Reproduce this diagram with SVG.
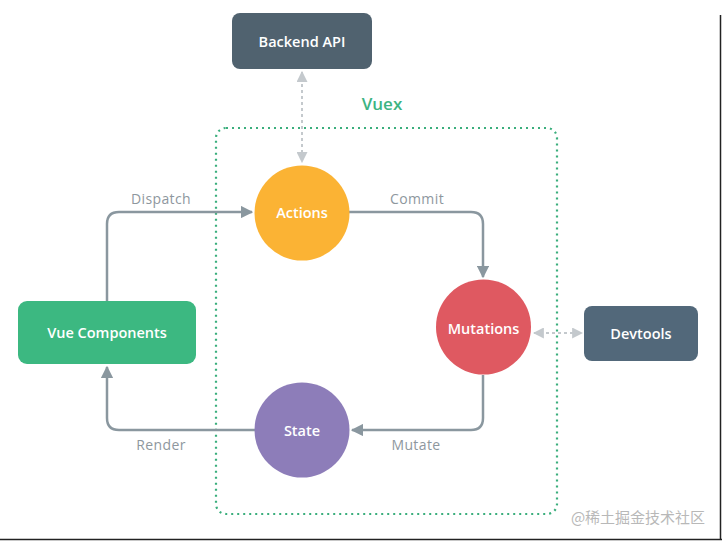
<svg xmlns="http://www.w3.org/2000/svg" width="722" height="541" viewBox="0 0 722 541">
<defs>
<style>
.lbl{font-family:"Open Sans","Liberation Sans",sans-serif;font-size:14px;font-weight:500;letter-spacing:0.4px;fill:#8e979e;text-anchor:middle}
.ntxt{font-family:"Open Sans","Liberation Sans",sans-serif;font-size:14.5px;font-weight:600;fill:#ffffff;text-anchor:middle}
.flow{fill:none;stroke:#8a979f;stroke-width:2.5}
.dot{fill:none;stroke:#c4c9cd;stroke-width:2;stroke-dasharray:3 3}
</style>
<marker id="ah" viewBox="0 0 10 10" refX="9" refY="5" markerWidth="5" markerHeight="5" orient="auto">
<path d="M0,0 L10,5 L0,10 z" fill="#8a979f"/>
</marker>
<marker id="ahl" viewBox="0 0 10 10" refX="9" refY="5" markerWidth="5.5" markerHeight="5.5" orient="auto-start-reverse">
<path d="M0,0 L10,5 L0,10 z" fill="#c4c9cd"/>
</marker>
</defs>
<rect width="722" height="541" fill="#ffffff"/>
<line x1="720.5" y1="15" x2="720.5" y2="540" stroke="#222" stroke-width="1.5"/>
<line x1="0" y1="539.5" x2="722" y2="539.5" stroke="#222" stroke-width="1.5"/>

<g id="vuex">
<rect x="216" y="128" width="341" height="386" rx="10" fill="none" stroke="#3aae7c" stroke-width="2.2" stroke-dasharray="2 4"/>
<text x="382" y="110" font-family="Open Sans, Liberation Sans, sans-serif" font-size="17" font-weight="600" fill="#3db482" text-anchor="middle">Vuex</text>
</g>

<g id="connectors">
<path class="flow" d="M107,301 V224 Q107,212 119,212 H252" marker-end="url(#ah)"/>
<path class="flow" d="M349,212 H471 Q483,212 483,224 V277" marker-end="url(#ah)"/>
<path class="flow" d="M483,375 V418 Q483,430 471,430 H352" marker-end="url(#ah)"/>
<path class="flow" d="M255,430 H119 Q107,430 107,418 V367" marker-end="url(#ah)"/>
<path class="dot" d="M302,72 V162" marker-start="url(#ahl)" marker-end="url(#ahl)"/>
<path class="dot" d="M534,333 H582" marker-start="url(#ahl)" marker-end="url(#ahl)"/>
<text class="lbl" x="161" y="204">Dispatch</text>
<text class="lbl" x="417" y="204">Commit</text>
<text class="lbl" x="416" y="450">Mutate</text>
<text class="lbl" x="161" y="450">Render</text>
</g>

<g id="backend">
<rect x="232" y="13" width="140" height="56" rx="8" fill="#50626f"/>
<text class="ntxt" x="302" y="47">Backend API</text>
</g>
<g id="actions">
<circle cx="302" cy="213" r="47.5" fill="#fbb334"/>
<text class="ntxt" x="302" y="218">Actions</text>
</g>
<g id="mutations">
<circle cx="483.5" cy="327" r="47.5" fill="#df5961"/>
<text class="ntxt" x="483.5" y="334">Mutations</text>
</g>
<g id="state">
<circle cx="302" cy="430" r="47.5" fill="#8d7db9"/>
<text class="ntxt" x="302" y="436">State</text>
</g>
<g id="vue-components">
<rect x="18" y="301" width="178" height="63" rx="9" fill="#3cb881"/>
<text class="ntxt" x="107" y="338">Vue Components</text>
</g>
<g id="devtools">
<rect x="584" y="306" width="114" height="55" rx="8" fill="#52687a"/>
<text class="ntxt" x="641" y="339">Devtools</text>
</g>
<text x="638" y="523" font-family="Noto Sans CJK SC, sans-serif" font-size="15" fill="#b8b8b8" text-anchor="middle">@稀土掘金技术社区</text>
</svg>
